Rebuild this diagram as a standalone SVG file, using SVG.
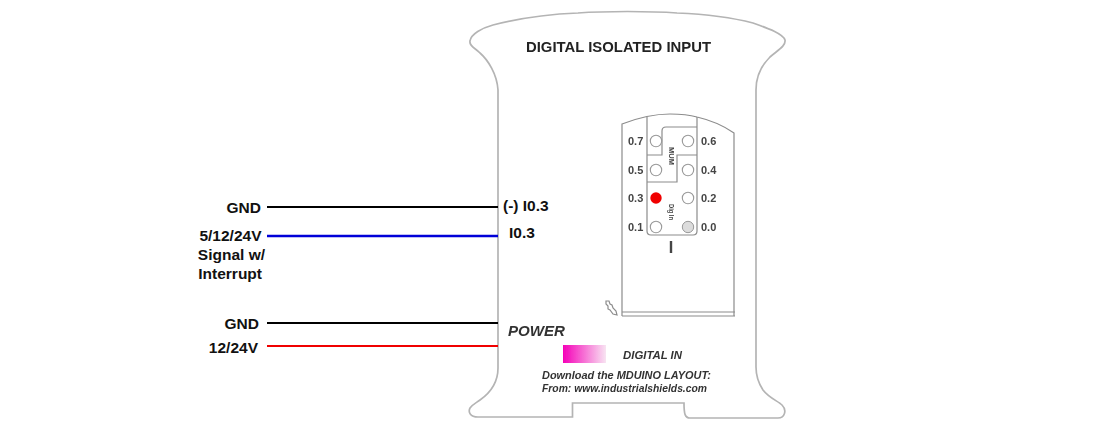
<svg xmlns="http://www.w3.org/2000/svg" width="1094" height="432" viewBox="0 0 1094 432">
<style>
.body{fill:none;stroke:#b4b4b4;stroke-width:1.7}
.thin{fill:none;stroke:#8c8c8c;stroke-width:1.2}
.wire{fill:none;stroke-width:2.2}
.lbl{font-family:"Liberation Sans",Arial,sans-serif;font-size:15.5px;font-weight:700;fill:#111}
.pin{font-family:"Liberation Sans",Arial,sans-serif;font-size:11px;font-weight:700;fill:#444}
.it{font-family:"Liberation Sans",Arial,sans-serif;font-style:italic;font-weight:700;fill:#333}
.hole{fill:#fff;stroke:#999;stroke-width:1.1}
</style>
<defs>
<linearGradient id="g"><stop offset="0" stop-color="#f500b8"/><stop offset="1" stop-color="#f8e4f2"/></linearGradient>
<filter id="soft" x="-2%" y="-2%" width="104%" height="104%"><feGaussianBlur stdDeviation="0.5"/></filter>
</defs>
<g id="module" filter="url(#soft)">
<path class="body" d="M498 368V90C497 74 488 60 480 53C475 48 469 46 470 41C471 34 482 28 493 25C520 18 550 14 578 13C605 11 650 11 677 13C700 14 730 17 753 23C770 29 783 34 785 40C786 46 778 50 770 57C762 65 756 75 756 90V367C756 376 759 384 763 390C769 398 778 401 782 405C787 410 785 418 778 418H690C685 418 684 414 684 403H572.500V417H478C470 417 468 412 470 408C473 404 476 403 480 400C490 393 498 384 498 368Z"/>
</g>
<g id="title" filter="url(#soft)"><text x="526" y="52" font-family="'Liberation Sans',Arial,sans-serif" font-size="14" font-weight="700" fill="#222" textLength="185" lengthAdjust="spacingAndGlyphs">DIGITAL ISOLATED INPUT</text></g>
<g id="layout" filter="url(#soft)">
<path class="thin" d="M622 316V124C640 117 655 114 670 114C680 114 690 115 697 117C710 120 724 126 734 133V316"/>
<path class="thin" d="M622 312H735M622 316H735"/>
<path class="thin" d="M647 117V231Q647 235 651 235H693Q697 235 697 231V117"/>
<path class="thin" d="M647 155H662V131Q662 127 666 127H697M647 182H677V155H697"/>
<circle class="hole" cx="656" cy="141" r="5.700"/><circle class="hole" cx="688" cy="141" r="5.700"/>
<circle class="hole" cx="656" cy="170" r="5.700"/><circle class="hole" cx="688" cy="170" r="5.700"/>
<circle cx="656" cy="198" r="5.700" fill="#f00000"/><circle class="hole" cx="688" cy="198" r="5.700"/>
<circle class="hole" cx="656" cy="227" r="5.700"/><circle cx="688" cy="227" r="5.700" fill="#dcdcdc" stroke="#999"/>
<text class="pin" x="628" y="145">0.7</text><text class="pin" x="701" y="145">0.6</text>
<text class="pin" x="628" y="174">0.5</text><text class="pin" x="701" y="174">0.4</text>
<text class="pin" x="628" y="202">0.3</text><text class="pin" x="701" y="202">0.2</text>
<text class="pin" x="628" y="231">0.1</text><text class="pin" x="701" y="231">0.0</text>
<text transform="translate(668.500,147) rotate(90)" font-family="'Liberation Sans',Arial,sans-serif" font-size="7" font-weight="700" fill="#444" textLength="18" lengthAdjust="spacingAndGlyphs">MUM</text>
<text transform="translate(668.500,204) rotate(90)" font-family="'Liberation Sans',Arial,sans-serif" font-size="7" font-weight="700" fill="#444" textLength="16" lengthAdjust="spacingAndGlyphs">Dig In</text>
<path d="M671 241V253" stroke="#444" stroke-width="2.4" fill="none"/>
<path class="thin" d="M606 301l3 0 1 3 2 1 1 3 3 3 1 4-4-1-3-4-2-1 0-3-2-2z"/>
</g>
<g id="legend" filter="url(#soft)">
<text class="it" x="508" y="336" font-size="15" textLength="57" lengthAdjust="spacingAndGlyphs">POWER</text>
<rect x="563" y="345" width="43" height="18" fill="url(#g)"/>
<text class="it" x="623" y="359" font-size="10.500" textLength="59" lengthAdjust="spacingAndGlyphs">DIGITAL IN</text>
<text class="it" x="542" y="379" font-size="10.500" textLength="169" lengthAdjust="spacingAndGlyphs">Download the MDUINO LAYOUT:</text>
<text class="it" x="542" y="392" font-size="10.500" textLength="165" lengthAdjust="spacingAndGlyphs">From: www.industrialshields.com</text>
</g>
<g id="connectors">
<path class="wire" stroke="#000" d="M267 207H498"/>
<path class="wire" stroke="#0000d8" style="stroke-width:2.700" d="M267 236H498"/>
<path class="wire" stroke="#000" d="M267 323H498"/>
<path class="wire" stroke="#f00000" d="M267 346H498"/>
</g>
<g id="labels">
<text class="lbl" x="261" y="212.500" text-anchor="end">GND</text>
<text class="lbl" x="261.500" y="241" text-anchor="end">5/12/24V</text>
<text class="lbl" x="265" y="260" text-anchor="end">Signal w/</text>
<text class="lbl" x="262" y="279" text-anchor="end">Interrupt</text>
<text class="lbl" x="259" y="328.500" text-anchor="end">GND</text>
<text class="lbl" x="258" y="353" text-anchor="end">12/24V</text>
<text class="lbl" x="503" y="210.500">(-) I0.3</text>
<text class="lbl" x="509" y="238">I0.3</text>
</g>
</svg>
